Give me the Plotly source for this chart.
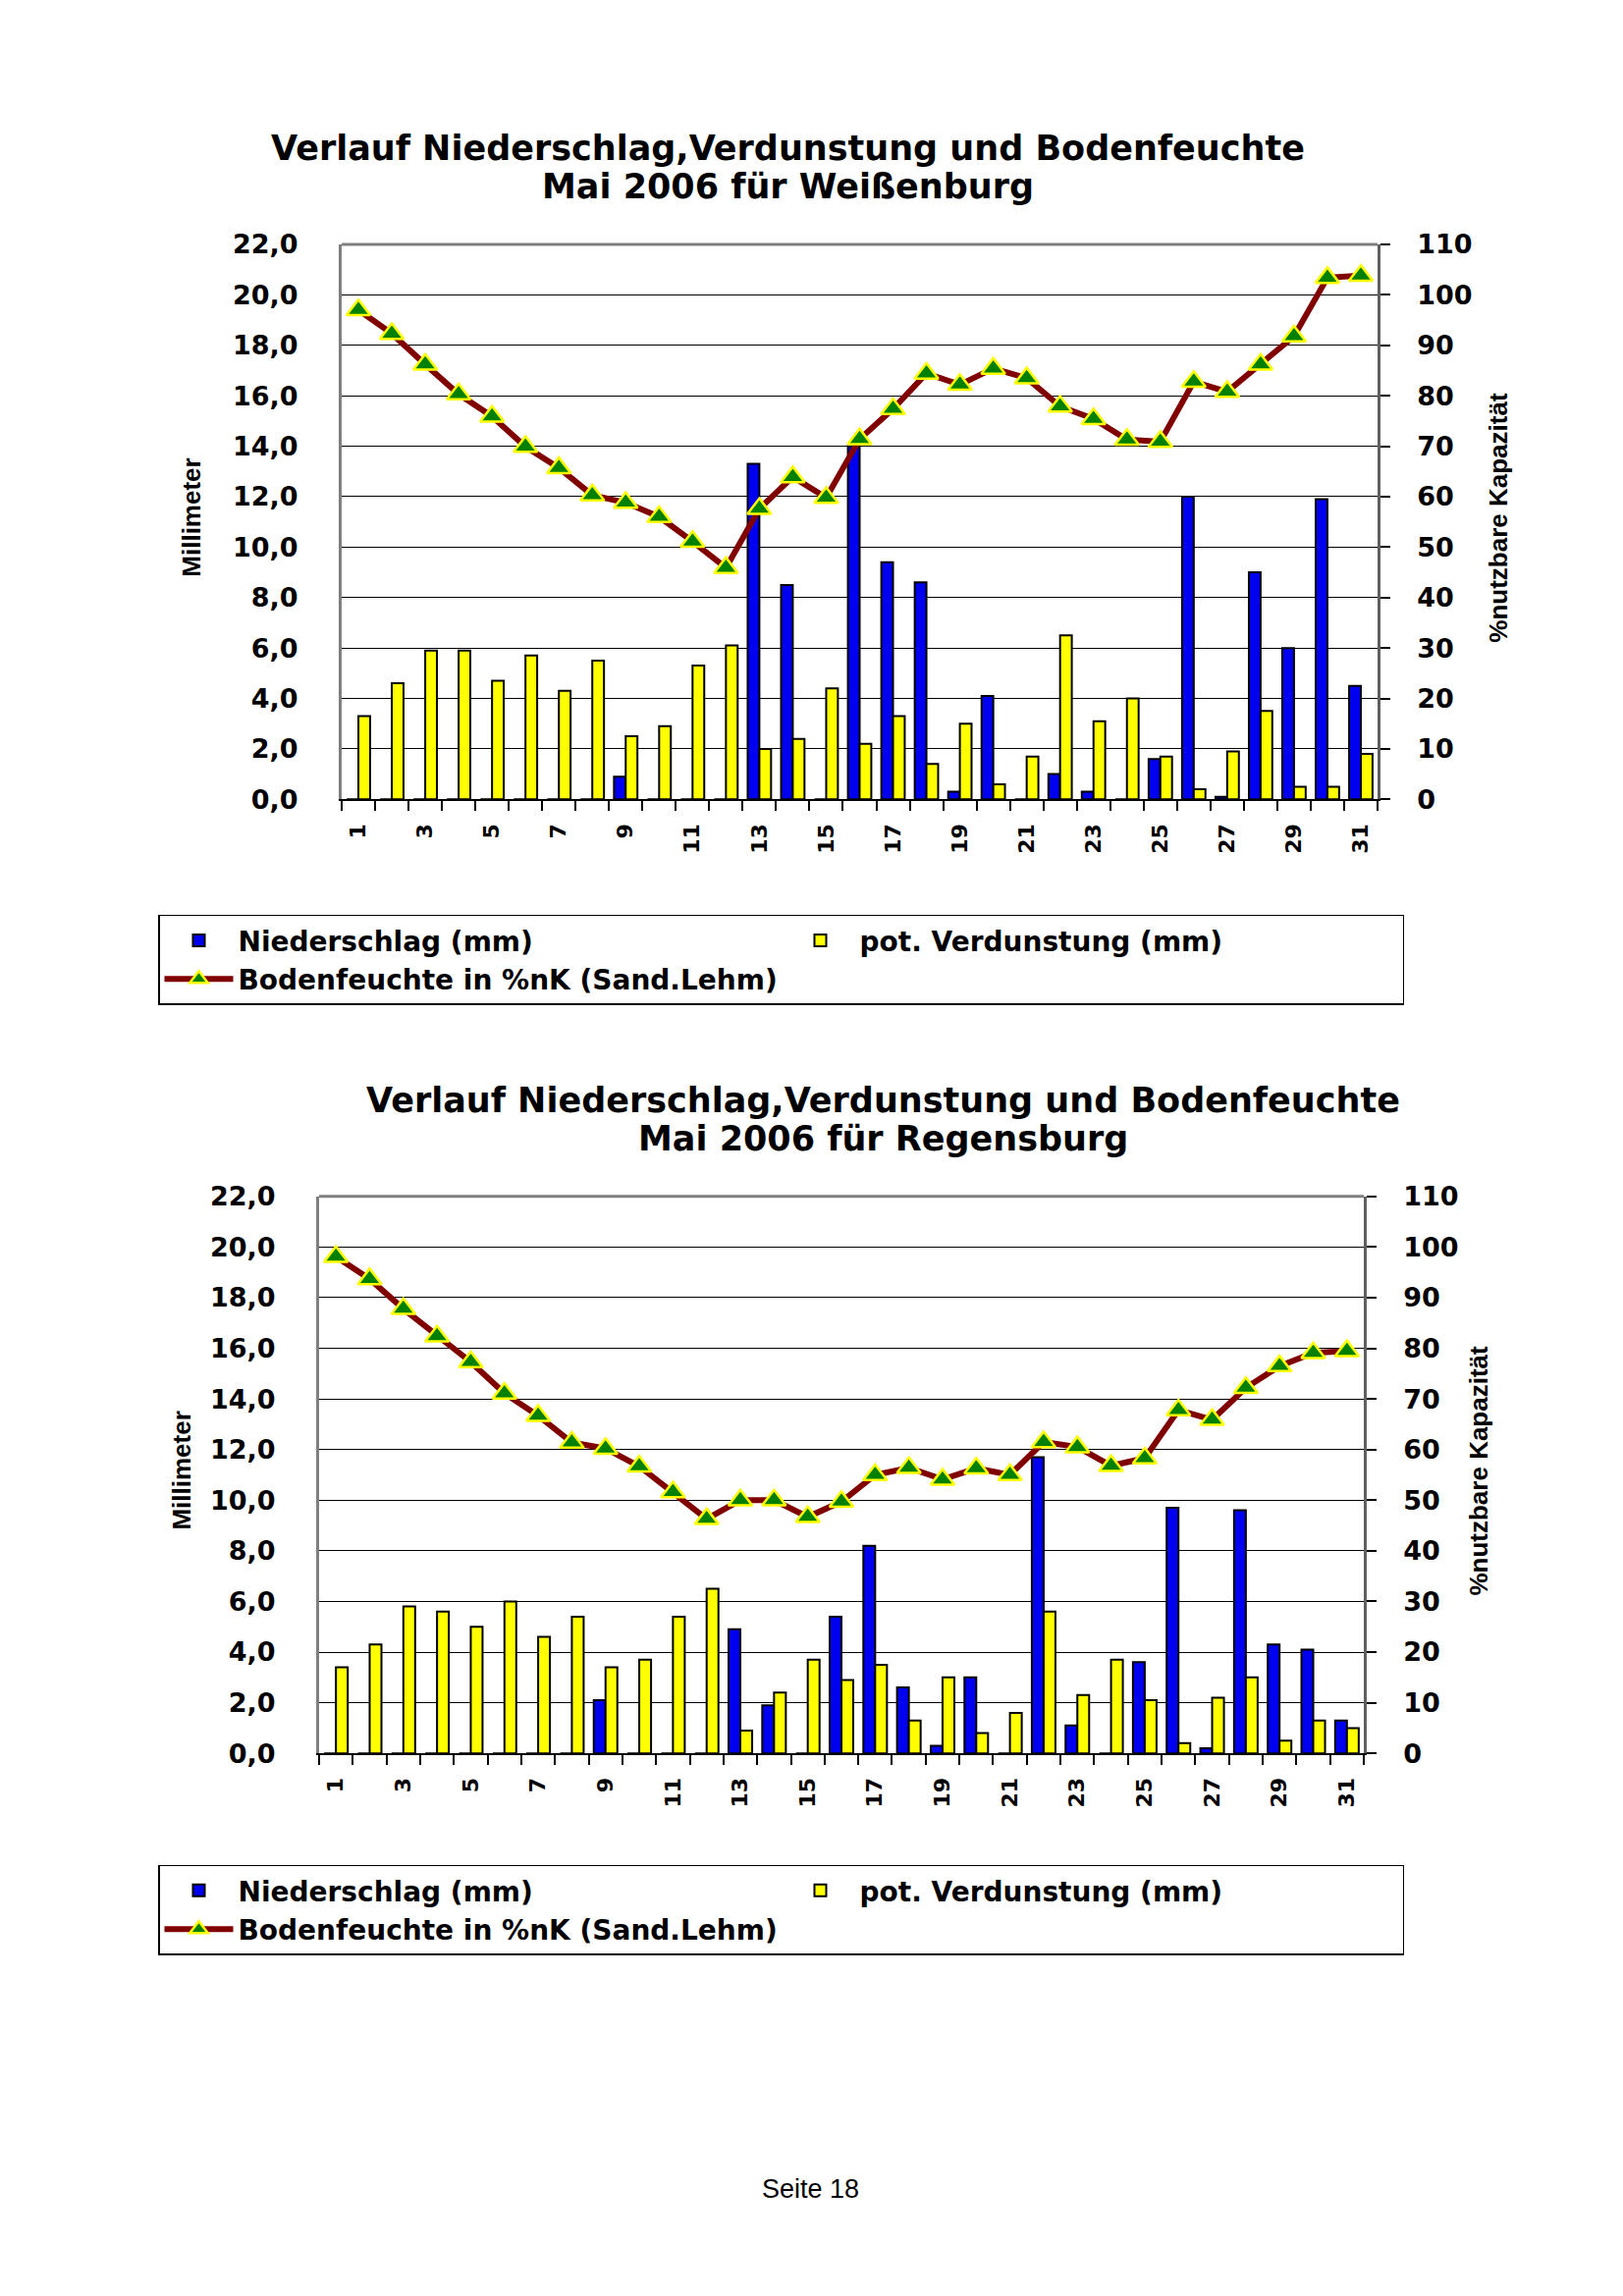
import plotly.graph_objects as go

# ---------------- data ----------------
days = list(range(1, 32))
tick_days = list(range(1, 32, 2))

weiss_rain = [0, 0, 0, 0, 0, 0, 0, 0, 0.9, 0, 0, 0, 13.3, 8.5, 0, 14.0,
              9.4, 8.6, 0.3, 4.1, 0, 1.0, 0.3, 0, 1.6, 12.0, 0.1, 9.0, 6.0, 11.9, 4.5]
weiss_evap = [3.3, 4.6, 5.9, 5.9, 4.7, 5.7, 4.3, 5.5, 2.5, 2.9, 5.3, 6.1, 2.0, 2.4, 4.4, 2.2,
              3.3, 1.4, 3.0, 0.6, 1.7, 6.5, 3.1, 4.0, 1.7, 0.4, 1.9, 3.5, 0.5, 0.5, 1.8]
weiss_soil = [97.0, 92.3, 86.2, 80.3, 75.9, 69.9, 65.7, 60.3, 58.8, 56.0, 51.1, 45.9, 57.6, 63.9,
              59.8, 71.4, 77.4, 84.4, 82.2, 85.4, 83.5, 77.9, 75.4, 71.3, 70.9, 82.8, 80.8, 86.2,
              91.8, 103.4, 103.8]

regen_rain = [0, 0, 0, 0, 0, 0, 0, 0, 2.1, 0, 0, 0, 4.9, 1.9, 0, 5.4,
              8.2, 2.6, 0.3, 3.0, 0, 11.7, 1.1, 0, 3.6, 9.7, 0.2, 9.6, 4.3, 4.1, 1.3]
regen_evap = [3.4, 4.3, 5.8, 5.6, 5.0, 6.0, 4.6, 5.4, 3.4, 3.7, 5.4, 6.5, 0.9, 2.4, 3.7, 2.9,
              3.5, 1.3, 3.0, 0.8, 1.6, 5.6, 2.3, 3.7, 2.1, 0.4, 2.2, 3.0, 0.5, 1.3, 1.0]
regen_soil = [98.1, 93.7, 87.8, 82.4, 77.3, 71.1, 66.7, 61.4, 60.2, 56.7, 51.6, 46.3, 50.0, 50.0,
              46.7, 49.7, 55.0, 56.4, 54.1, 56.3, 55.0, 61.5, 60.5, 56.8, 58.3, 67.8, 65.9, 72.2,
              76.5, 79.1, 79.5]

title_main = "Verlauf Niederschlag,Verdunstung und Bodenfeuchte"
title_sub = ["Mai 2006 für Weißenburg", "Mai 2006 für Regensburg"]
name_rain = "Niederschlag (mm)"
name_evap = "pot. Verdunstung (mm)"
name_soil = "Bodenfeuchte in %nK (Sand.Lehm)"

# ---------------- layout helpers ----------------
W, H, OFF = 1637, 2323, 8


def px(x):
    return (x - OFF) / W


def py(y):
    return 1 - (y - OFF) / H


BOLD = dict(family="DejaVu Sans", color="black", weight="bold")
BLUE = "#0000F0"
YELLOW = "#FFFF00"

fig = go.Figure()

panels = [
    dict(rain=weiss_rain, evap=weiss_evap, soil=weiss_soil, x=(348, 1403), y=(236, 809),
         title_x=802, title_y=(137, 176), ytitle_x=195, rtitle_x=1526, legend_y=928,
         leg="legend", xa="x", ya="y", ya2="y2"),
    dict(rain=regen_rain, evap=regen_evap, soil=regen_soil, x=(325, 1389), y=(1219, 1794),
         title_x=899, title_y=(1120, 1159), ytitle_x=185, rtitle_x=1506, legend_y=1909,
         leg="legend2", xa="x2", ya="y3", ya2="y4"),
]

annotations = []
shapes = []
for i, p in enumerate(panels):
    fig.add_trace(go.Bar(x=days, y=p["rain"], name=name_rain, xaxis=p["xa"], yaxis=p["ya"],
                         marker=dict(color=BLUE, line=dict(color="black", width=2)),
                         legend=p["leg"], offsetgroup="a"))
    fig.add_trace(go.Bar(x=days, y=p["evap"], name=name_evap, xaxis=p["xa"], yaxis=p["ya"],
                         marker=dict(color=YELLOW, line=dict(color="black", width=2)),
                         legend=p["leg"], offsetgroup="b"))
    fig.add_trace(go.Scatter(x=days, y=p["soil"], name=name_soil, xaxis=p["xa"], yaxis=p["ya2"],
                             mode="lines+markers",
                             line=dict(color="#800000", width=6),
                             marker=dict(symbol="triangle-up", size=21, color="#008000",
                                         line=dict(color="#FFFF00", width=2.5)),
                             legend=p["leg"]))

    xd = [px(p["x"][0]), px(p["x"][1])]
    yd = [py(p["y"][1]), py(p["y"][0])]
    sfx = "" if i == 0 else "2"
    ysfx1 = "" if i == 0 else "3"
    ysfx2 = "2" if i == 0 else "4"
    fig.update_layout(**{
        "xaxis" + sfx: dict(domain=xd, range=[0.5, 31.5], anchor=p["ya"],
                            tickmode="array", tickvals=tick_days,
                            ticktext=[str(d) for d in tick_days], tickangle=-90,
                            tickfont=dict(size=22, **BOLD), showgrid=False, zeroline=False,
                            showline=True, linecolor="black", linewidth=2,
                            ticks="", ticklabelstandoff=14,
                            minor=dict(ticks="outside", tickmode="array",
                                       tickvals=[d + 0.5 for d in range(0, 32)],
                                       ticklen=10, tickcolor="black", tickwidth=1.5,
                                       showgrid=False)),
        "yaxis" + ysfx1: dict(domain=yd, range=[0, 22], dtick=2, tick0=0, tickformat=".1f",
                              anchor=p["xa"], showgrid=True, gridcolor="black", gridwidth=1.3,
                              zeroline=False, showline=True, linecolor="#808080", linewidth=3,
                              ticks="", ticklabelstandoff=36,
                              tickfont=dict(size=27, **BOLD)),
        "yaxis" + ysfx2: dict(domain=yd, range=[0, 110], dtick=10, tick0=0,
                              overlaying=p["ya"], side="right", anchor=p["xa"],
                              showgrid=False, zeroline=False, showline=True,
                              linecolor="#606060", linewidth=2.5,
                              ticks="outside", ticklen=10, tickcolor="black", tickwidth=1.5,
                              ticklabelstandoff=22, tickfont=dict(size=27, **BOLD)),
        p["leg"]: dict(x=px(161), y=py(p["legend_y"]), xanchor="left", yanchor="top",
                       orientation="h", entrywidth=548, entrywidthmode="pixels",
                       itemwidth=70,
                       bordercolor="black", borderwidth=1.5, bgcolor="white",
                       traceorder="normal", font=dict(size=28, **BOLD)),
    })

    # gray top border of the plot area
    shapes.append(dict(type="line", xref=p["xa"] + " domain", yref=p["ya"] + " domain",
                       x0=0, x1=1, y0=1, y1=1, line=dict(color="#808080", width=3),
                       layer="above"))

    for txt, ty in zip([title_main, title_sub[i]], p["title_y"]):
        annotations.append(dict(text=txt, x=px(p["title_x"]), y=py(ty),
                                xref="paper", yref="paper",
                                xanchor="center", yanchor="middle", showarrow=False,
                                font=dict(size=35, **BOLD)))
    ymid = (p["y"][0] + p["y"][1]) / 2
    annotations.append(dict(text="Millimeter", x=px(p["ytitle_x"]), y=py(ymid - 4),
                            xref="paper", yref="paper", xanchor="center", yanchor="middle",
                            textangle=-90, showarrow=False,
                            font=dict(family="Liberation Sans", size=26, color="black",
                                      weight="bold")))
    annotations.append(dict(text="%nutzbare Kapazität", x=px(p["rtitle_x"]), y=py(ymid - 4),
                            xref="paper", yref="paper", xanchor="center", yanchor="middle",
                            textangle=-90, showarrow=False,
                            font=dict(family="Liberation Sans", size=26, color="black",
                                      weight="bold")))

annotations.append(dict(text="Seite 18", x=px(825), y=py(2244), xref="paper", yref="paper",
                        xanchor="center", yanchor="middle", showarrow=False,
                        font=dict(family="Liberation Sans", size=27, color="black")))

fig.update_layout(width=W, height=H, autosize=False,
                  margin=dict(l=0, r=0, t=0, b=0),
                  plot_bgcolor="white", paper_bgcolor="white",
                  separators=",.", barmode="group", bargap=0.3, bargroupgap=0,
                  showlegend=True, annotations=annotations, shapes=shapes)

fig.write_html("out.html")
